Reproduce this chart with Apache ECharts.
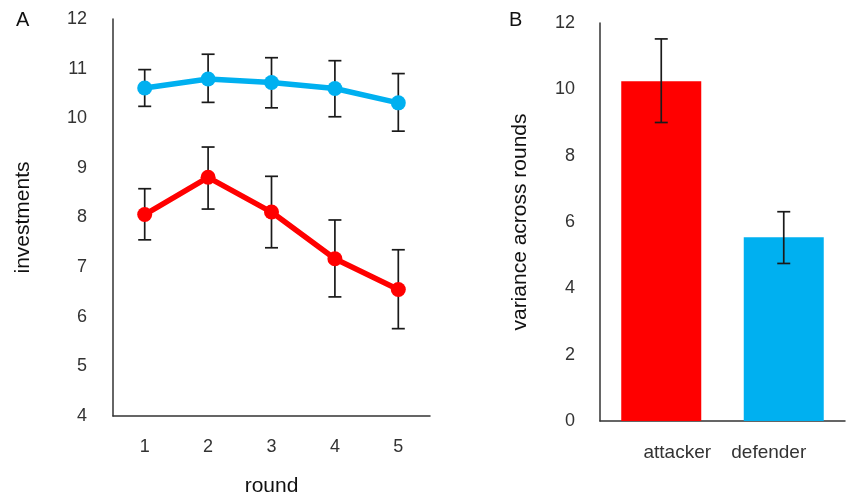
<!DOCTYPE html>
<html>
<head>
<meta charset="utf-8">
<script src="https://cdn.jsdelivr.net/npm/echarts@6/dist/echarts.min.js"></script>
<style>
  html, body { margin: 0; padding: 0; background: #fff; }
  #main { width: 851px; height: 495px; }
</style>
</head>
<body>
<div id="main"></div>
<script>
// panel A: investments per round
const rounds = ['1', '2', '3', '4', '5'];
const defenderMean = [10.61, 10.79, 10.72, 10.60, 10.31];
const defenderLow = [10.24, 10.32, 10.21, 10.03, 9.74];
const defenderHigh = [10.98, 11.29, 11.22, 11.16, 10.90];
const attackerMean = [8.06, 8.81, 8.11, 7.17, 6.55];
const attackerLow = [7.55, 8.17, 7.39, 6.40, 5.76];
const attackerHigh = [8.58, 9.42, 8.83, 7.95, 7.35];

// panel B: variance across rounds
const roles = ['attacker', 'defender'];
const varianceMean = [10.24, 5.54];
const varianceLow = [9.00, 4.75];
const varianceHigh = [11.52, 6.31];

const RED = '#ff0000';
const BLUE = '#00b0f0';
const AXIS = '#333';
const FONT = 'Liberation Sans, Arial, sans-serif';

// error bar data: [x index, low, high]
function errData(low, high) {
    return low.map((v, i) => [i, v, high[i]]);
}

function renderErr(params, api) {
    const x = api.value(0);
    const lo = api.coord([x, api.value(1)]);
    const hi = api.coord([x, api.value(2)]);
    const cap = 6.5;
    const style = { stroke: '#1a1a1a', lineWidth: 1.7 };
    return {
        type: 'group',
        children: [
            { type: 'line', shape: { x1: hi[0], y1: hi[1], x2: lo[0], y2: lo[1] }, style: style },
            { type: 'line', shape: { x1: hi[0] - cap, y1: hi[1], x2: hi[0] + cap, y2: hi[1] }, style: style },
            { type: 'line', shape: { x1: lo[0] - cap, y1: lo[1], x2: lo[0] + cap, y2: lo[1] }, style: style }
        ]
    };
}

const axisLine = { show: true, lineStyle: { color: AXIS, width: 1.5 } };
const labelStyle = { color: '#333', fontSize: 18, fontFamily: FONT };
const nameStyle = { fontSize: 21, color: '#111', fontFamily: FONT };

const chart = echarts.init(document.getElementById('main'));
chart.setOption({
    animation: false,
    backgroundColor: '#fff',
    graphic: [
        { type: 'text', left: 16, top: 10, style: { text: 'A', fontSize: 20, fontFamily: FONT, fill: '#111' } },
        { type: 'text', left: 509, top: 10, style: { text: 'B', fontSize: 20, fontFamily: FONT, fill: '#111' } }
    ],
    grid: [
        { left: 113, top: 19, width: 317, height: 397, outerBoundsMode: 'none', containLabel: false },
        { left: 600, top: 23, width: 245, height: 398, outerBoundsMode: 'none', containLabel: false }
    ],
    xAxis: [
        {
            gridIndex: 0, type: 'category', data: rounds, boundaryGap: true,
            axisLine: axisLine, axisTick: { show: false },
            axisLabel: Object.assign({ margin: 22, interval: 0 }, labelStyle),
            name: 'round', nameLocation: 'middle', nameGap: 60,
            nameTextStyle: nameStyle
        },
        {
            gridIndex: 1, type: 'category', data: roles, boundaryGap: true,
            axisLine: axisLine, axisTick: { show: false },
            axisLabel: Object.assign({
                margin: 22,
                interval: 0,
                hideOverlap: false,
                formatter: v => v === 'attacker' ? '{a|attacker}' : '{d|defender}',
                rich: {
                    a: { fontSize: 19, color: '#333', fontFamily: FONT, padding: [0, 0, 0, 32] },
                    d: { fontSize: 19, color: '#333', fontFamily: FONT, padding: [0, 30, 0, 0] }
                }
            }, labelStyle)
        }
    ],
    yAxis: [
        {
            gridIndex: 0, type: 'value', min: 4, max: 12, interval: 1,
            axisLine: axisLine, axisTick: { show: false }, splitLine: { show: false },
            axisLabel: Object.assign({ margin: 26 }, labelStyle),
            name: 'investments', nameLocation: 'middle', nameGap: 79,
            nameTextStyle: nameStyle
        },
        {
            gridIndex: 1, type: 'value', min: 0, max: 12, interval: 2,
            axisLine: axisLine, axisTick: { show: false }, splitLine: { show: false },
            axisLabel: Object.assign({ margin: 25 }, labelStyle),
            name: 'variance across rounds', nameLocation: 'middle', nameGap: 69,
            nameTextStyle: nameStyle
        }
    ],
    series: [
        {
            type: 'custom', xAxisIndex: 0, yAxisIndex: 0, z: 1,
            renderItem: renderErr, data: errData(defenderLow, defenderHigh)
        },
        {
            type: 'custom', xAxisIndex: 0, yAxisIndex: 0, z: 1,
            renderItem: renderErr, data: errData(attackerLow, attackerHigh)
        },
        {
            name: 'defender', type: 'line', xAxisIndex: 0, yAxisIndex: 0, z: 3,
            data: defenderMean, symbol: 'circle', symbolSize: 15,
            lineStyle: { color: BLUE, width: 5.5 }, itemStyle: { color: BLUE }
        },
        {
            name: 'attacker', type: 'line', xAxisIndex: 0, yAxisIndex: 0, z: 3,
            data: attackerMean, symbol: 'circle', symbolSize: 15,
            lineStyle: { color: RED, width: 5.5 }, itemStyle: { color: RED }
        },
        {
            type: 'bar', xAxisIndex: 1, yAxisIndex: 1, barWidth: 80, z: 2,
            data: varianceMean.map((v, i) => ({ value: v, itemStyle: { color: i === 0 ? RED : BLUE } }))
        },
        {
            type: 'custom', xAxisIndex: 1, yAxisIndex: 1, z: 4,
            renderItem: renderErr, data: errData(varianceLow, varianceHigh)
        }
    ]
});
</script>
</body>
</html>
